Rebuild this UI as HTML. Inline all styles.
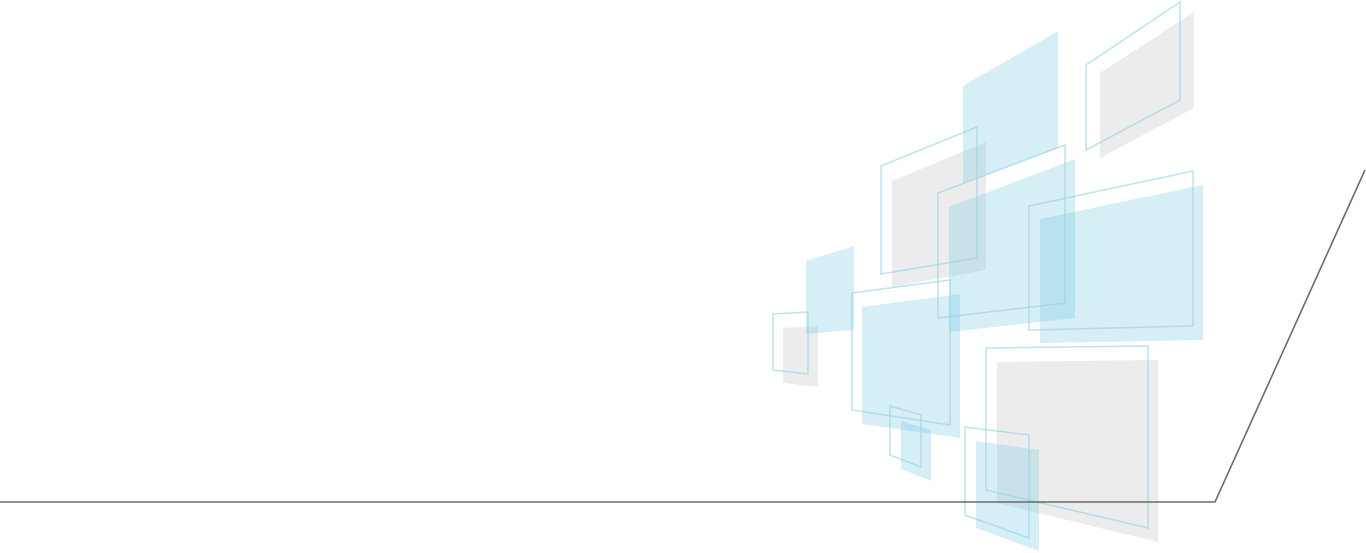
<!DOCTYPE html>
<html><head><meta charset="utf-8"><style>
html,body{margin:0;padding:0;background:#fff;width:1366px;height:553px;overflow:hidden}
svg{display:block}
.b{fill:rgb(120,200,225);fill-opacity:0.3}
.g{fill:#ececec}
.o{fill:none;stroke:rgb(150,210,228);stroke-opacity:0.6;stroke-width:1.6}
</style></head><body>
<svg width="1366" height="553" viewBox="0 0 1366 553" xmlns="http://www.w3.org/2000/svg">
<polygon class="g" points="1100,73 1194,12 1194,108 1100,158"/>
<polygon class="g" points="892,181 986,142 986,270 892,287"/>
<polygon class="g" points="783,328 818,326 818,387 783,383"/>
<polygon class="g" points="997,362 1158,360 1158,542 997,503"/>
<polygon class="b" points="963,86 1058,31 1058,148 963,183"/>
<polygon class="b" points="949,207 1075,159 1075,318 949,332"/>
<polygon class="b" points="1040,219 1203,185 1203,340 1040,343"/>
<polygon class="b" points="806,261 854,246 854,330 806,334"/>
<polygon class="b" points="862,307 960,294 960,438 862,424"/>
<polygon class="b" points="901,421 931,430 931,481 901,469"/>
<polygon class="b" points="976,441 1039,450 1039,551 976,528"/>
<polygon class="o" points="1086,65 1180,2 1180,100 1086,150"/>
<polygon class="o" points="881,166 977,127 977,258 881,274"/>
<polygon class="o" points="938,193 1065,145 1065,303 938,318"/>
<polygon class="o" points="1029,206 1193,171 1193,326 1029,330"/>
<polygon class="o" points="852,293 950,280 950,425 852,410"/>
<polygon class="o" points="773,314 808,312 808,374 773,370"/>
<polygon class="o" points="986,348 1148,346 1148,528 986,490"/>
<polygon class="o" points="890,406 921,415 921,467 890,455"/>
<polygon class="o" points="965,427 1029,435 1029,538 965,515"/>
<polyline points="0,502 1215,502 1365,170" fill="none" stroke="#6b6b6b" stroke-width="1.6"/>
</svg>
</body></html>
